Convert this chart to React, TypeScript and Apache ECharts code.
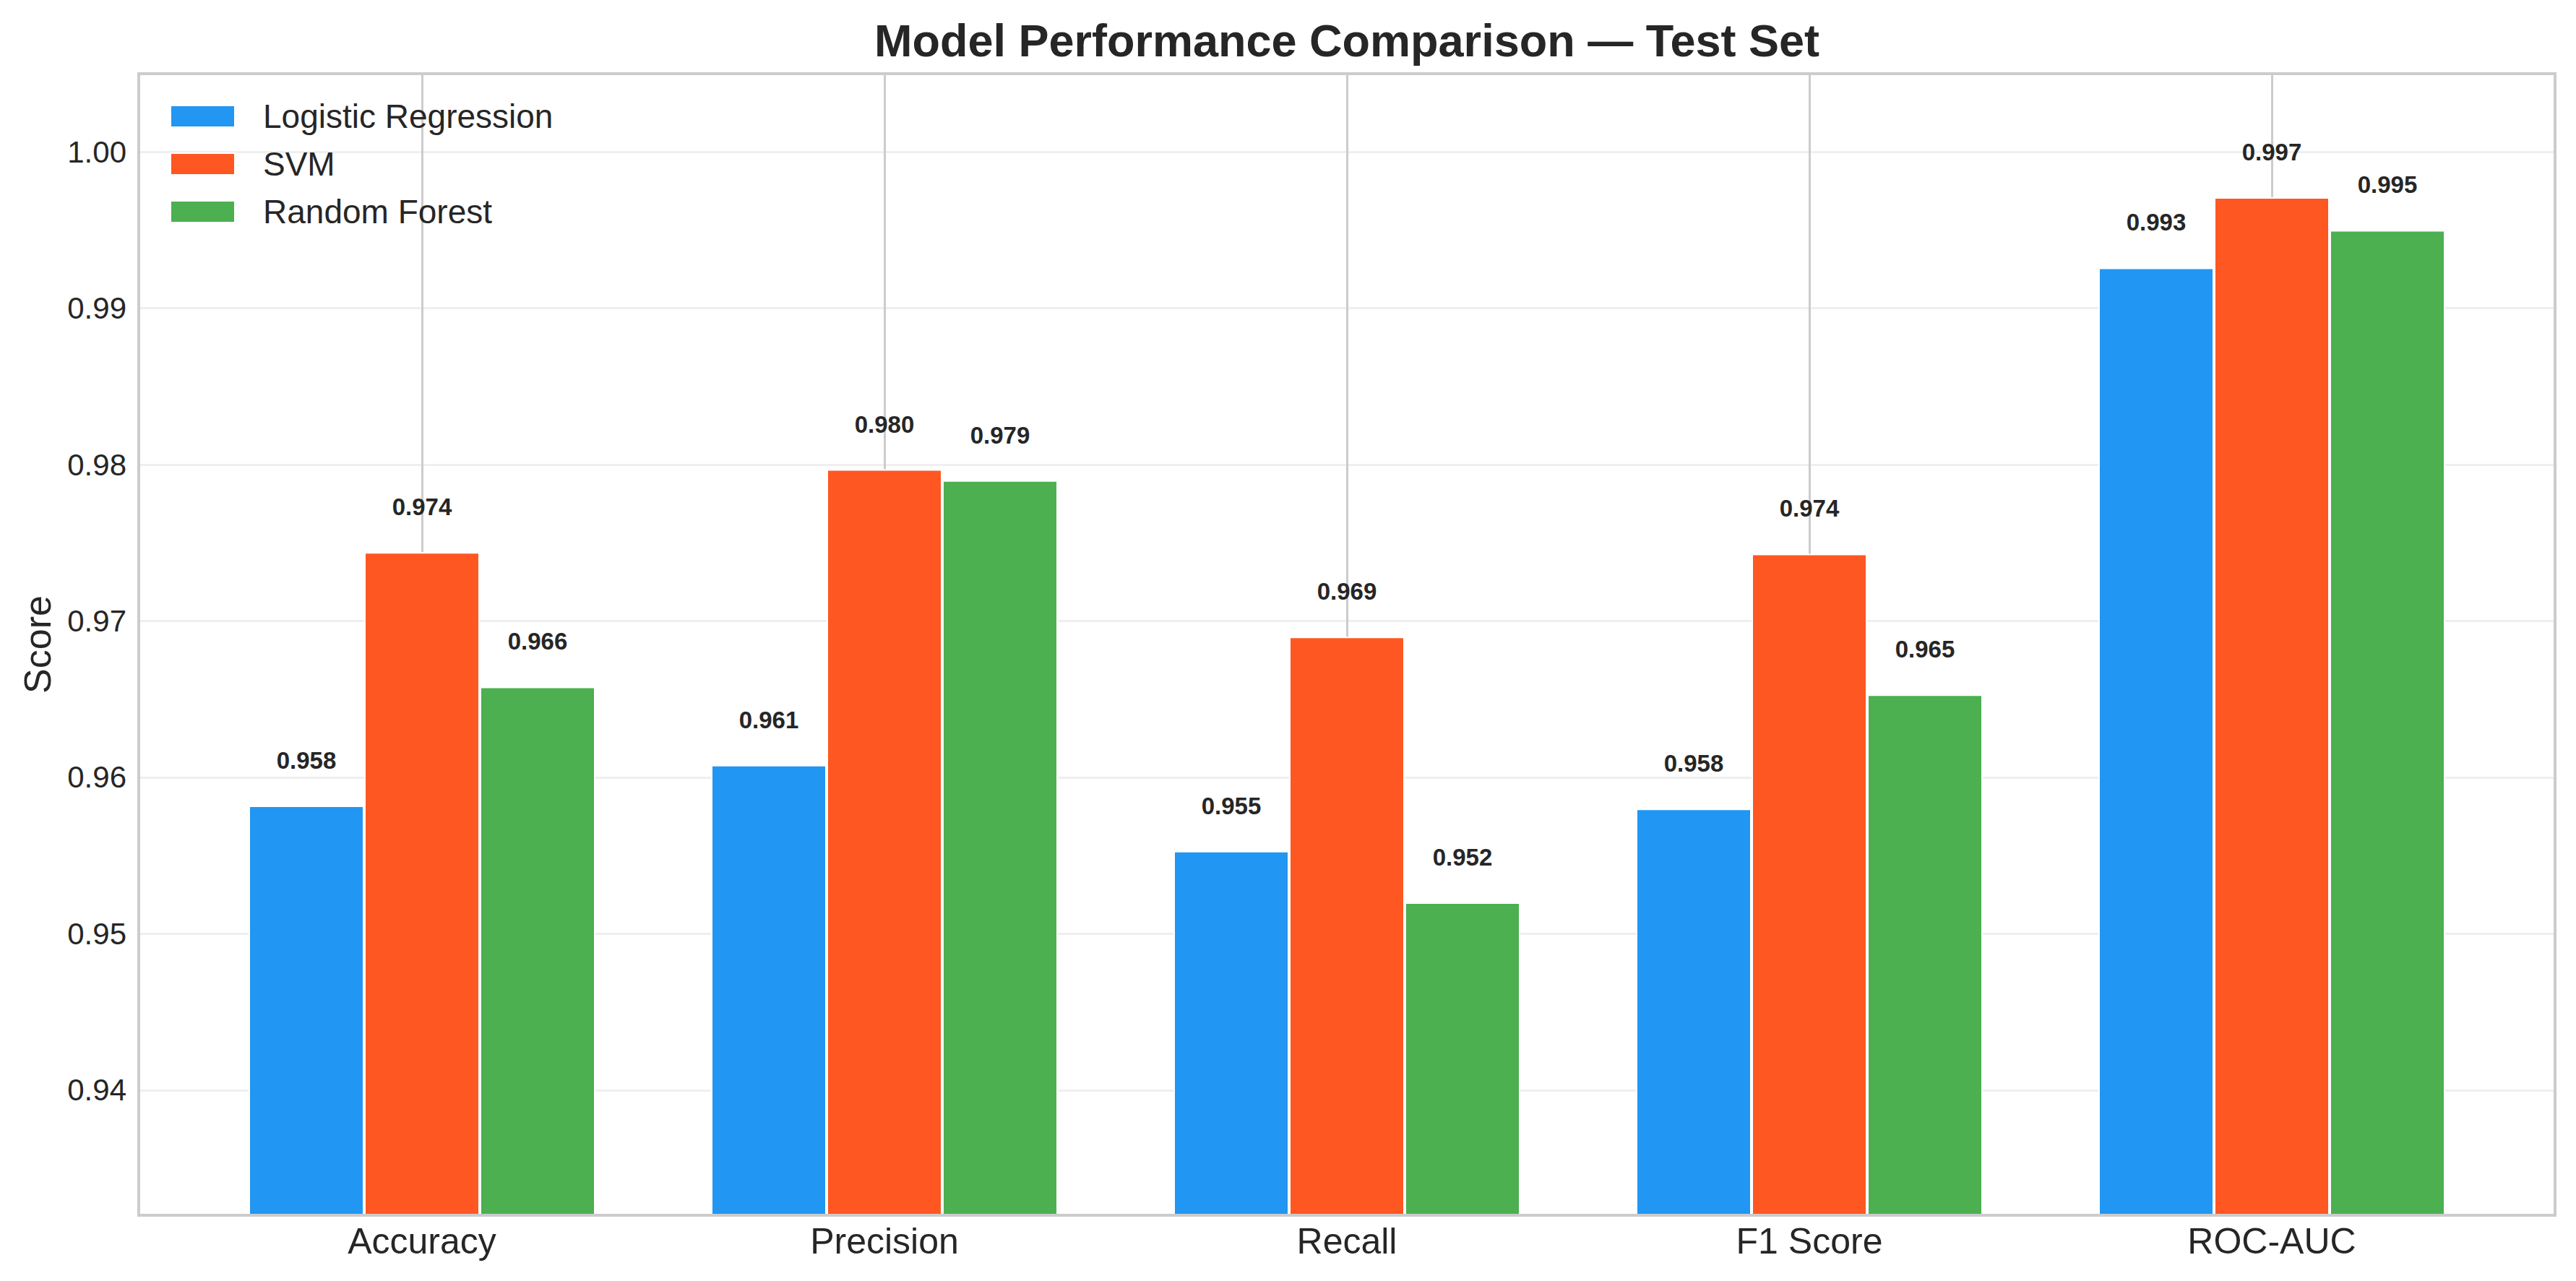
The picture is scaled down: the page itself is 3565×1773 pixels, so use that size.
import React, { useEffect, useRef } from 'react';
import * as echarts from 'echarts';

const categories = ['Accuracy', 'Precision', 'Recall', 'F1 Score', 'ROC-AUC'];
const seriesNames = ['Logistic Regression', 'SVM', 'Random Forest'];
const logisticRegression = [0.9582, 0.9608, 0.9553, 0.958, 0.9926];
const svm = [0.9744, 0.9797, 0.969, 0.9743, 0.9971];
const randomForest = [0.9658, 0.979, 0.952, 0.9653, 0.995];
const seriesValues = [logisticRegression, svm, randomForest];
const colors = ['#2196F3', '#FF5722', '#4CAF50'];
const categoryPositions = [0, 1, 2, 3, 4];

const FONT = "'Liberation Sans', Arial, Helvetica, sans-serif";
const TEXT = '#262626';

export default function App() {
  const ref = useRef<HTMLDivElement>(null);

  useEffect(() => {
    document.body.style.margin = '0';
    if (!ref.current) return;
    const chart = echarts.init(ref.current, undefined, { renderer: 'svg' });

    const gridLeft = 192;
    const gridTop = 102;
    const gridRight = 29;
    const gridBottom = 91;
    const W = 3565;
    const H = 1773;

    const series = seriesNames.map((name, s) => ({
      type: 'bar',
      name,
      data: seriesValues[s].map((v, i) => [categoryPositions[i], v]),
      barWidth: 160,
      barGap: '0%',
      itemStyle: { color: colors[s], borderColor: '#ffffff', borderWidth: 2 },
      label: {
        show: true,
        position: 'top',
        distance: 46,
        formatter: (p: any) => Number(p.value[1]).toFixed(3),
        fontSize: 33,
        fontWeight: 'bold',
        fontFamily: FONT,
        color: TEXT,
      },
    }));

    chart.setOption({
      animation: false,
      backgroundColor: '#ffffff',
      textStyle: { fontFamily: FONT },
      title: {
        text: 'Model Performance Comparison — Test Set',
        left: gridLeft + (W - gridLeft - gridRight) / 2,
        top: 24,
        padding: 0,
        textAlign: 'center',
        textStyle: { fontSize: 63, fontWeight: 'bold', color: TEXT, fontFamily: FONT },
      },
      legend: {
        orient: 'vertical',
        left: 235,
        top: 138,
        padding: 0,
        itemWidth: 89,
        itemHeight: 30,
        itemGap: 20,
        icon: 'rect',
        data: seriesNames,
        textStyle: {
          fontSize: 46,
          lineHeight: 46,
          color: TEXT,
          fontFamily: FONT,
          padding: [0, 0, 0, 34],
        },
      },
      grid: { left: gridLeft, right: gridRight, top: gridTop, bottom: gridBottom },
      xAxis: {
        type: 'value',
        min: -0.6125,
        max: 4.6125,
        axisLine: { show: false },
        axisTick: { show: false, customValues: categoryPositions },
        axisLabel: {
          customValues: categoryPositions,
          formatter: (v: number) => categories[Math.round(v)] ?? '',
          fontSize: 50,
          color: TEXT,
          fontFamily: FONT,
          margin: 11,
        },
        splitLine: { show: true, lineStyle: { color: '#cccccc', width: 3 } },
      },
      yAxis: {
        type: 'value',
        min: 0.932,
        max: 1.005,
        splitNumber: 7,
        minInterval: 0.01,
        maxInterval: 0.01,
        name: 'Score',
        nameLocation: 'middle',
        nameRotate: 90,
        nameGap: 114,
        nameTextStyle: { fontSize: 52, color: TEXT, fontFamily: FONT },
        axisLine: { show: false },
        axisTick: { show: false },
        axisLabel: {
          formatter: (v: number) => v.toFixed(2),
          showMinLabel: false,
          showMaxLabel: false,
          fontSize: 42,
          color: TEXT,
          fontFamily: FONT,
          margin: 17,
        },
        splitLine: { show: true, lineStyle: { color: '#efefef', width: 3 } },
      },
      graphic: [
        {
          type: 'rect',
          silent: true,
          z: 100,
          shape: {
            x: gridLeft,
            y: gridTop,
            width: W - gridLeft - gridRight,
            height: H - gridTop - gridBottom,
          },
          style: { fill: 'none', stroke: '#cccccc', lineWidth: 4 },
        },
      ],
      series,
    });

    return () => {
      chart.dispose();
    };
  }, []);

  return <div ref={ref} style={{ width: 3565, height: 1773 }} />;
}
